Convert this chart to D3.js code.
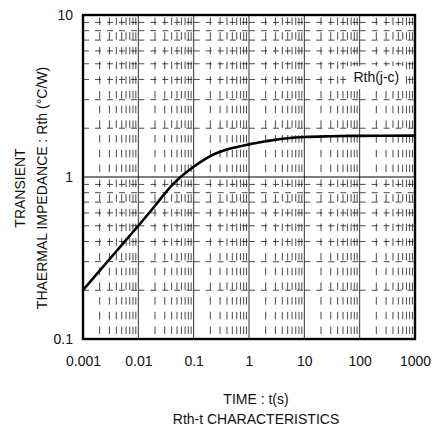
<!DOCTYPE html>
<html>
<head>
<meta charset="utf-8">
<script src="https://cdn.jsdelivr.net/npm/d3@7"></script>
<style>
  body { margin: 0; background: #fff; }
  text { font-family: "Liberation Sans", Arial, Helvetica, sans-serif; }
</style>
</head>
<body>
<svg id="chart" width="438" height="427"></svg>
<script>
// transient thermal impedance
var time = [0.001, 0.002, 0.003, 0.005, 0.01, 0.02, 0.03, 0.04, 0.05, 0.07, 0.1, 0.15, 0.2, 0.3, 0.5, 1, 2, 3, 5, 10, 30, 100, 1000];
var rth  = [0.2, 0.264, 0.31, 0.38, 0.5, 0.665, 0.79, 0.884, 0.954, 1.054, 1.156, 1.27, 1.345, 1.43, 1.51, 1.59, 1.66, 1.70, 1.735, 1.765, 1.785, 1.795, 1.8];

var xTickValues = [0.001, 0.01, 0.1, 1, 10, 100, 1000];
var xTickLabels = ["0.001", "0.01", "0.1", "1", "10", "100", "1000"];
var yTickValues = [0.1, 1, 10];
var yTickLabels = ["0.1", "1", "10"];

var seriesLabel = "Rth(j-c)";
var xTitle = "TIME : t(s)";
var chartTitle = "Rth-t CHARACTERISTICS";
var yTitle = ["TRANSIENT", "THAERMAL IMPEDANCE : Rth (°C/W)"];

// plot box (window.top is read-only, hence the prefix)
var plotLeft = 83, plotRight = 415, plotTop = 15, plotBottom = 339;

var svg = d3.select("#chart");

var x = d3.scaleLog().domain([0.001, 1000]).range([plotLeft, plotRight]);
var y = d3.scaleLog().domain([0.1, 10]).range([plotBottom, plotTop]);

var g = svg.append("g");

//minor grid, dash pattern restarts at every decade like the printed sheet
var xMinor = x.ticks().filter(function(d) { return xTickValues.indexOf(+d.toPrecision(1)) < 0; });
var yMinor = y.ticks().filter(function(d) { return yTickValues.indexOf(+d.toPrecision(1)) < 0; });

for (var i = 0; i < yTickValues.length - 1; i++) {
	var y0 = yTickValues[i + 1], y1 = yTickValues[i];
	g.selectAll(null)
		.data(xMinor)
		.enter().append("line")
		.attr("x1", function(d) { return x(d); })
		.attr("x2", function(d) { return x(d); })
		.attr("y1", y(y0))
		.attr("y2", y(y1))
		.attr("stroke", "#1a1a1a")
		.attr("stroke-width", 0.8)
		.attr("stroke-dasharray", "7.5,7.2")
		.attr("stroke-dashoffset", -2.5);
}

for (var j = 0; j < xTickValues.length - 1; j++) {
	var x0 = xTickValues[j], x1 = xTickValues[j + 1];
	g.selectAll(null)
		.data(yMinor)
		.enter().append("line")
		.attr("x1", x(x0))
		.attr("x2", x(x1))
		.attr("y1", function(d) { return y(d); })
		.attr("y2", function(d) { return y(d); })
		.attr("stroke", "#1a1a1a")
		.attr("stroke-width", 0.8)
		.attr("stroke-dasharray", "6,6");
}

//major grid
g.selectAll(".vmajor")
	.data(xTickValues.slice(1, -1))
	.enter().append("line")
	.attr("x1", function(d) { return x(d); })
	.attr("x2", function(d) { return x(d); })
	.attr("y1", plotTop)
	.attr("y2", plotBottom)
	.attr("stroke", "#333")
	.attr("stroke-width", 1);

g.selectAll(".hmajor")
	.data(yTickValues.slice(1, -1))
	.enter().append("line")
	.attr("x1", plotLeft)
	.attr("x2", plotRight)
	.attr("y1", function(d) { return y(d); })
	.attr("y2", function(d) { return y(d); })
	.attr("stroke", "#000")
	.attr("stroke-width", 1.2);

//label box sits over the grid
var lx = x(200), ly = y(3.85);
g.append("rect")
	.attr("x", lx - 30)
	.attr("y", ly - 16)
	.attr("width", 59)
	.attr("height", 23)
	.attr("fill", "#fff");

g.append("text")
	.attr("x", lx)
	.attr("y", ly)
	.attr("text-anchor", "middle")
	.attr("font-size", "14px")
	.attr("fill", "#111")
	.text(seriesLabel);

//curve
var line = d3.line()
	.curve(d3.curveMonotoneX)
	.x(function(d, i) { return x(time[i]); })
	.y(function(d) { return y(d); });

g.append("path")
	.datum(rth)
	.attr("d", line)
	.attr("fill", "none")
	.attr("stroke", "#000")
	.attr("stroke-width", 2.6);

//frame
g.append("rect")
	.attr("x", plotLeft)
	.attr("y", plotTop)
	.attr("width", plotRight - plotLeft)
	.attr("height", plotBottom - plotTop)
	.attr("fill", "none")
	.attr("stroke", "#000")
	.attr("stroke-width", 2.4);

//axes
var xAxis = svg.append("g")
	.attr("transform", "translate(0," + plotBottom + ")")
	.call(d3.axisBottom(x)
		.tickValues(xTickValues)
		.tickFormat(function(d, i) { return xTickLabels[i]; })
		.tickSize(0)
		.tickPadding(17));

var yAxis = svg.append("g")
	.attr("transform", "translate(" + plotLeft + ",0)")
	.call(d3.axisLeft(y)
		.tickValues(yTickValues)
		.tickFormat(function(d, i) { return yTickLabels[i]; })
		.tickSize(0)
		.tickPadding(10));

[xAxis, yAxis].forEach(function(a) {
	a.select(".domain").remove();
	a.selectAll("text")
		.attr("font-family", null)
		.attr("font-size", "14px")
		.attr("fill", "#111");
});

//titles
svg.append("text")
	.attr("x", 256)
	.attr("y", 404)
	.attr("text-anchor", "middle")
	.attr("font-size", "14px")
	.attr("fill", "#111")
	.text(xTitle);

svg.append("text")
	.attr("x", 256)
	.attr("y", 424)
	.attr("text-anchor", "middle")
	.attr("font-size", "14px")
	.attr("fill", "#111")
	.text(chartTitle);

svg.selectAll(".ytitle")
	.data(yTitle)
	.enter().append("text")
	.attr("transform", function(d, i) { return "translate(" + (25 + i * 22) + ",188) rotate(-90)"; })
	.attr("text-anchor", "middle")
	.attr("font-size", "14px")
	.attr("fill", "#111")
	.text(function(d) { return d; });
</script>
</body>
</html>
